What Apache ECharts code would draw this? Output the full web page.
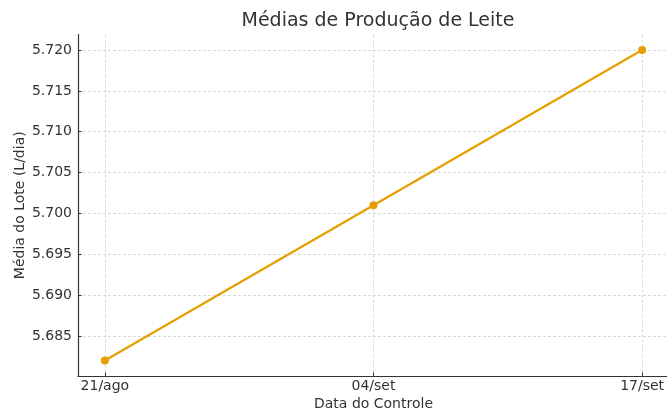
<!DOCTYPE html>
<html>
<head>
<meta charset="utf-8">
<script src="https://cdn.jsdelivr.net/npm/echarts@6/dist/echarts.min.js"></script>
<style>html,body{margin:0;padding:0;background:#fff}#c{width:667px;height:412px}</style>
</head>
<body>
<div id="c"></div>
<script>
const categories = ['21/ago', '04/set', '17/set'];
const values = [5.682, 5.701, 5.720];
const yTicks = [5.685, 5.690, 5.695, 5.700, 5.705, 5.710, 5.715, 5.720];
const xTicks = [0, 1, 2];

const FONT = 'DejaVu Sans';
const chart = echarts.init(document.getElementById('c'), null, {renderer: 'canvas'});
chart.setOption({
  animation: false,
  backgroundColor: '#fff',
  title: {
    text: 'Médias de Produção de Leite',
    left: 373, top: 7, textAlign: 'center',
    textStyle: {fontFamily: FONT, fontSize: 19, fontWeight: 'normal', color: '#333'}
  },
  grid: {left: 78, right: -2, top: 34.5, bottom: 36, containLabel: false, outerBoundsMode: 'none'},
  xAxis: {
    type: 'value', min: -0.1, max: 2.1,
    name: 'Data do Controle', nameLocation: 'middle', nameGap: 21, nameMoveOverlap: false,
    nameTextStyle: {fontFamily: FONT, fontSize: 14, color: '#333'},
    axisLine: {show: true, onZero: false, lineStyle: {color: '#333', width: 1.2}},
    axisTick: {show: true, inside: true, length: 3.5, customValues: xTicks, lineStyle: {color: '#333', width: 1}},
    axisLabel: {customValues: xTicks, margin: 3, fontFamily: FONT, fontSize: 14, color: '#333',
      formatter: v => categories[Math.round(v)]},
    splitLine: {show: true, lineStyle: {color: '#d0d0d0', type: [3, 2], width: 0.8}}
  },
  yAxis: {
    type: 'value', min: 5.6801, max: 5.7219,
    name: 'Média do Lote (L/dia)', nameLocation: 'middle', nameGap: 51, nameMoveOverlap: false,
    nameTextStyle: {fontFamily: FONT, fontSize: 14, color: '#333'},
    axisLine: {show: true, onZero: false, lineStyle: {color: '#333', width: 1.2}},
    axisTick: {show: true, inside: true, length: 3.5, customValues: yTicks, lineStyle: {color: '#333', width: 1}},
    axisLabel: {customValues: yTicks, margin: 6, fontFamily: FONT, fontSize: 14, color: '#333',
      formatter: v => v.toFixed(3)},
    splitLine: {show: true, lineStyle: {color: '#d0d0d0', type: [3, 2], width: 0.8}}
  },
  series: [{
    type: 'line',
    data: values.map((v, i) => [i, v]),
    symbol: 'circle', symbolSize: 8,
    lineStyle: {color: '#E69F00', width: 2.2},
    itemStyle: {color: '#E69F00'},
    z: 3
  }]
});
</script>
</body>
</html>
